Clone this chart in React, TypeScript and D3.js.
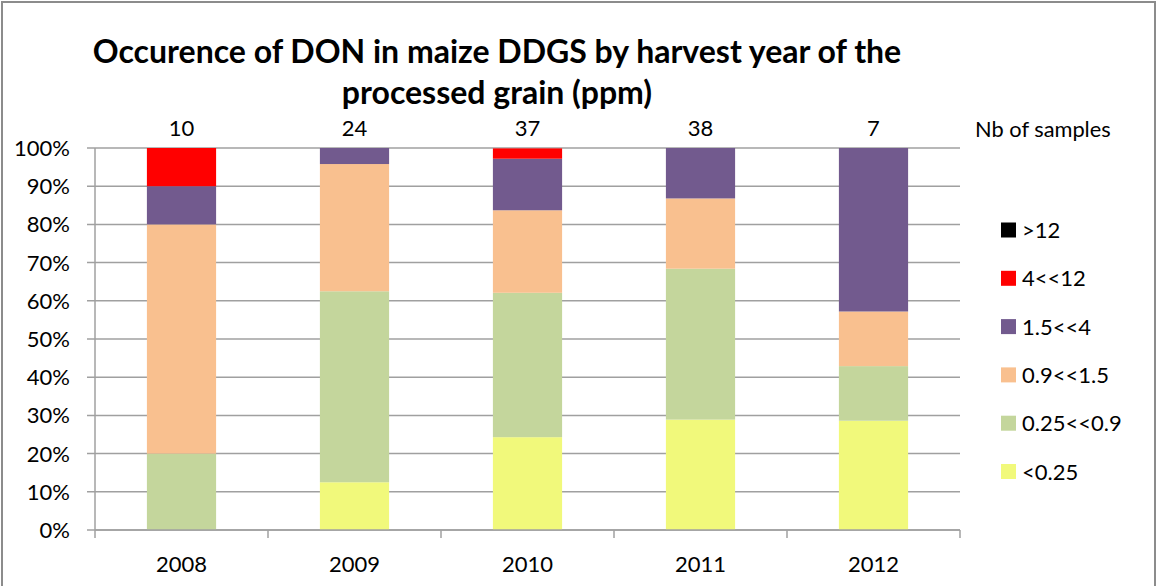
import React from "react";
import * as d3 from "d3";

const years = ["2008", "2009", "2010", "2011", "2012"];
const sampleCounts = [10, 24, 37, 38, 7];
const seriesNames = ["<0.25", "0.25<<0.9", "0.9<<1.5", "1.5<<4", "4<<12", ">12"];
const seriesColors = ["#F1F97B", "#C4D69C", "#F9C08F", "#725A8E", "#FF0000", "#000000"];
// percentage shares per year, one array per concentration class
const lt025 = [0, 12.5, 24.3, 28.9, 28.6];
const s025to09 = [20, 50, 37.8, 39.5, 14.3];
const s09to15 = [60, 33.3, 21.6, 18.4, 14.3];
const s15to4 = [10, 4.2, 13.5, 13.2, 42.8];
const s4to12 = [10, 0, 2.7, 0, 0];
const gt12 = [0, 0, 0, 0, 0];
const yTicks = [0, 10, 20, 30, 40, 50, 60, 70, 80, 90, 100];

const W = 1157;
const H = 586;
const plot = { left: 95, right: 960, top: 148, bottom: 530 };
const FONT = "Lato, 'Open Sans', sans-serif";

export default function App() {
  const seriesValues = [lt025, s025to09, s09to15, s15to4, s4to12, gt12];
  const table = years.map((y, i) => {
    const row: any = { year: y };
    seriesNames.forEach((s, k) => (row[s] = seriesValues[k][i]));
    return row;
  });
  const stack = d3.stack().keys(seriesNames)(table);

  const x = d3
    .scaleBand()
    .domain(years)
    .range([plot.left, plot.right])
    .paddingInner(0.6)
    .paddingOuter(0.3);
  const y = d3.scaleLinear().domain([0, 100]).range([plot.bottom, plot.top]);
  const step = x.step();
  const boundaries = d3.range(years.length + 1).map((i) => plot.left + i * step);

  const legendOrder = [...seriesNames].reverse();

  return (
    <div style={{ position: "absolute", left: 0, top: 0 }}>
      <svg width={W} height={H} style={{ display: "block", background: "#fff" }}>
        <rect x={2} y={2} width={1153} height={H + 10} fill="#fff" stroke="#8c8c8c" strokeWidth={2} />
        {/* title */}
        <text x={497} y={63} textAnchor="middle" fontFamily={FONT} fontWeight="bold" fontSize={32}>
          Occurence of DON in maize DDGS by harvest year of the
        </text>
        <text x={497} y={104} textAnchor="middle" fontFamily={FONT} fontWeight="bold" fontSize={32}>
          processed grain (ppm)
        </text>
        {/* gridlines */}
        {yTicks.map((t) => (
          <g key={t}>
            <line x1={plot.left - 8} x2={plot.right} y1={y(t)} y2={y(t)} stroke="#a0a0a0" strokeWidth={1.5} />
            <text
              x={70}
              y={y(t) + 8}
              textAnchor="end"
              fontFamily={FONT}
              fontSize={22}
              fill="#000"
            >
              {t}%
            </text>
          </g>
        ))}
        {/* bars */}
        {stack.map((layer, k) =>
          layer.map((d, i) =>
            d[1] - d[0] > 0 ? (
              <rect
                key={k + "-" + i}
                x={x(years[i])}
                width={x.bandwidth()}
                y={y(d[1])}
                height={y(d[0]) - y(d[1])}
                fill={seriesColors[k]}
              />
            ) : null
          )
        )}
        {/* axes */}
        <line x1={plot.left} x2={plot.left} y1={plot.top} y2={plot.bottom} stroke="#a0a0a0" strokeWidth={1.5} />
        <line x1={plot.left} x2={plot.right} y1={plot.bottom} y2={plot.bottom} stroke="#a0a0a0" strokeWidth={1.5} />
        {boundaries.map((bx, i) => (
          <line key={i} x1={bx} x2={bx} y1={plot.bottom} y2={plot.bottom + 8} stroke="#a0a0a0" strokeWidth={1.5} />
        ))}
        {years.map((yr) => (
          <text
            key={yr}
            x={(x(yr) as number) + x.bandwidth() / 2}
            y={572}
            textAnchor="middle"
            fontFamily={FONT}
            fontSize={22}
          >
            {yr}
          </text>
        ))}
        {/* sample counts */}
        {years.map((yr, i) => (
          <text
            key={"n" + yr}
            x={(x(yr) as number) + x.bandwidth() / 2}
            y={136}
            textAnchor="middle"
            fontFamily={FONT}
            fontSize={22}
          >
            {sampleCounts[i]}
          </text>
        ))}
        <text x={975} y={137} fontFamily={FONT} fontSize={21.8}>
          Nb of samples
        </text>
        {/* legend */}
        {legendOrder.map((name, j) => {
          const k = seriesNames.indexOf(name);
          const cy = 230 + j * 48.3;
          return (
            <g key={name}>
              <rect x={1001} y={cy - 7.5} width={15} height={15} fill={seriesColors[k]} />
              <text x={1022} y={cy + 8} fontFamily={FONT} fontSize={22}>
                {name}
              </text>
            </g>
          );
        })}
      </svg>
    </div>
  );
}
